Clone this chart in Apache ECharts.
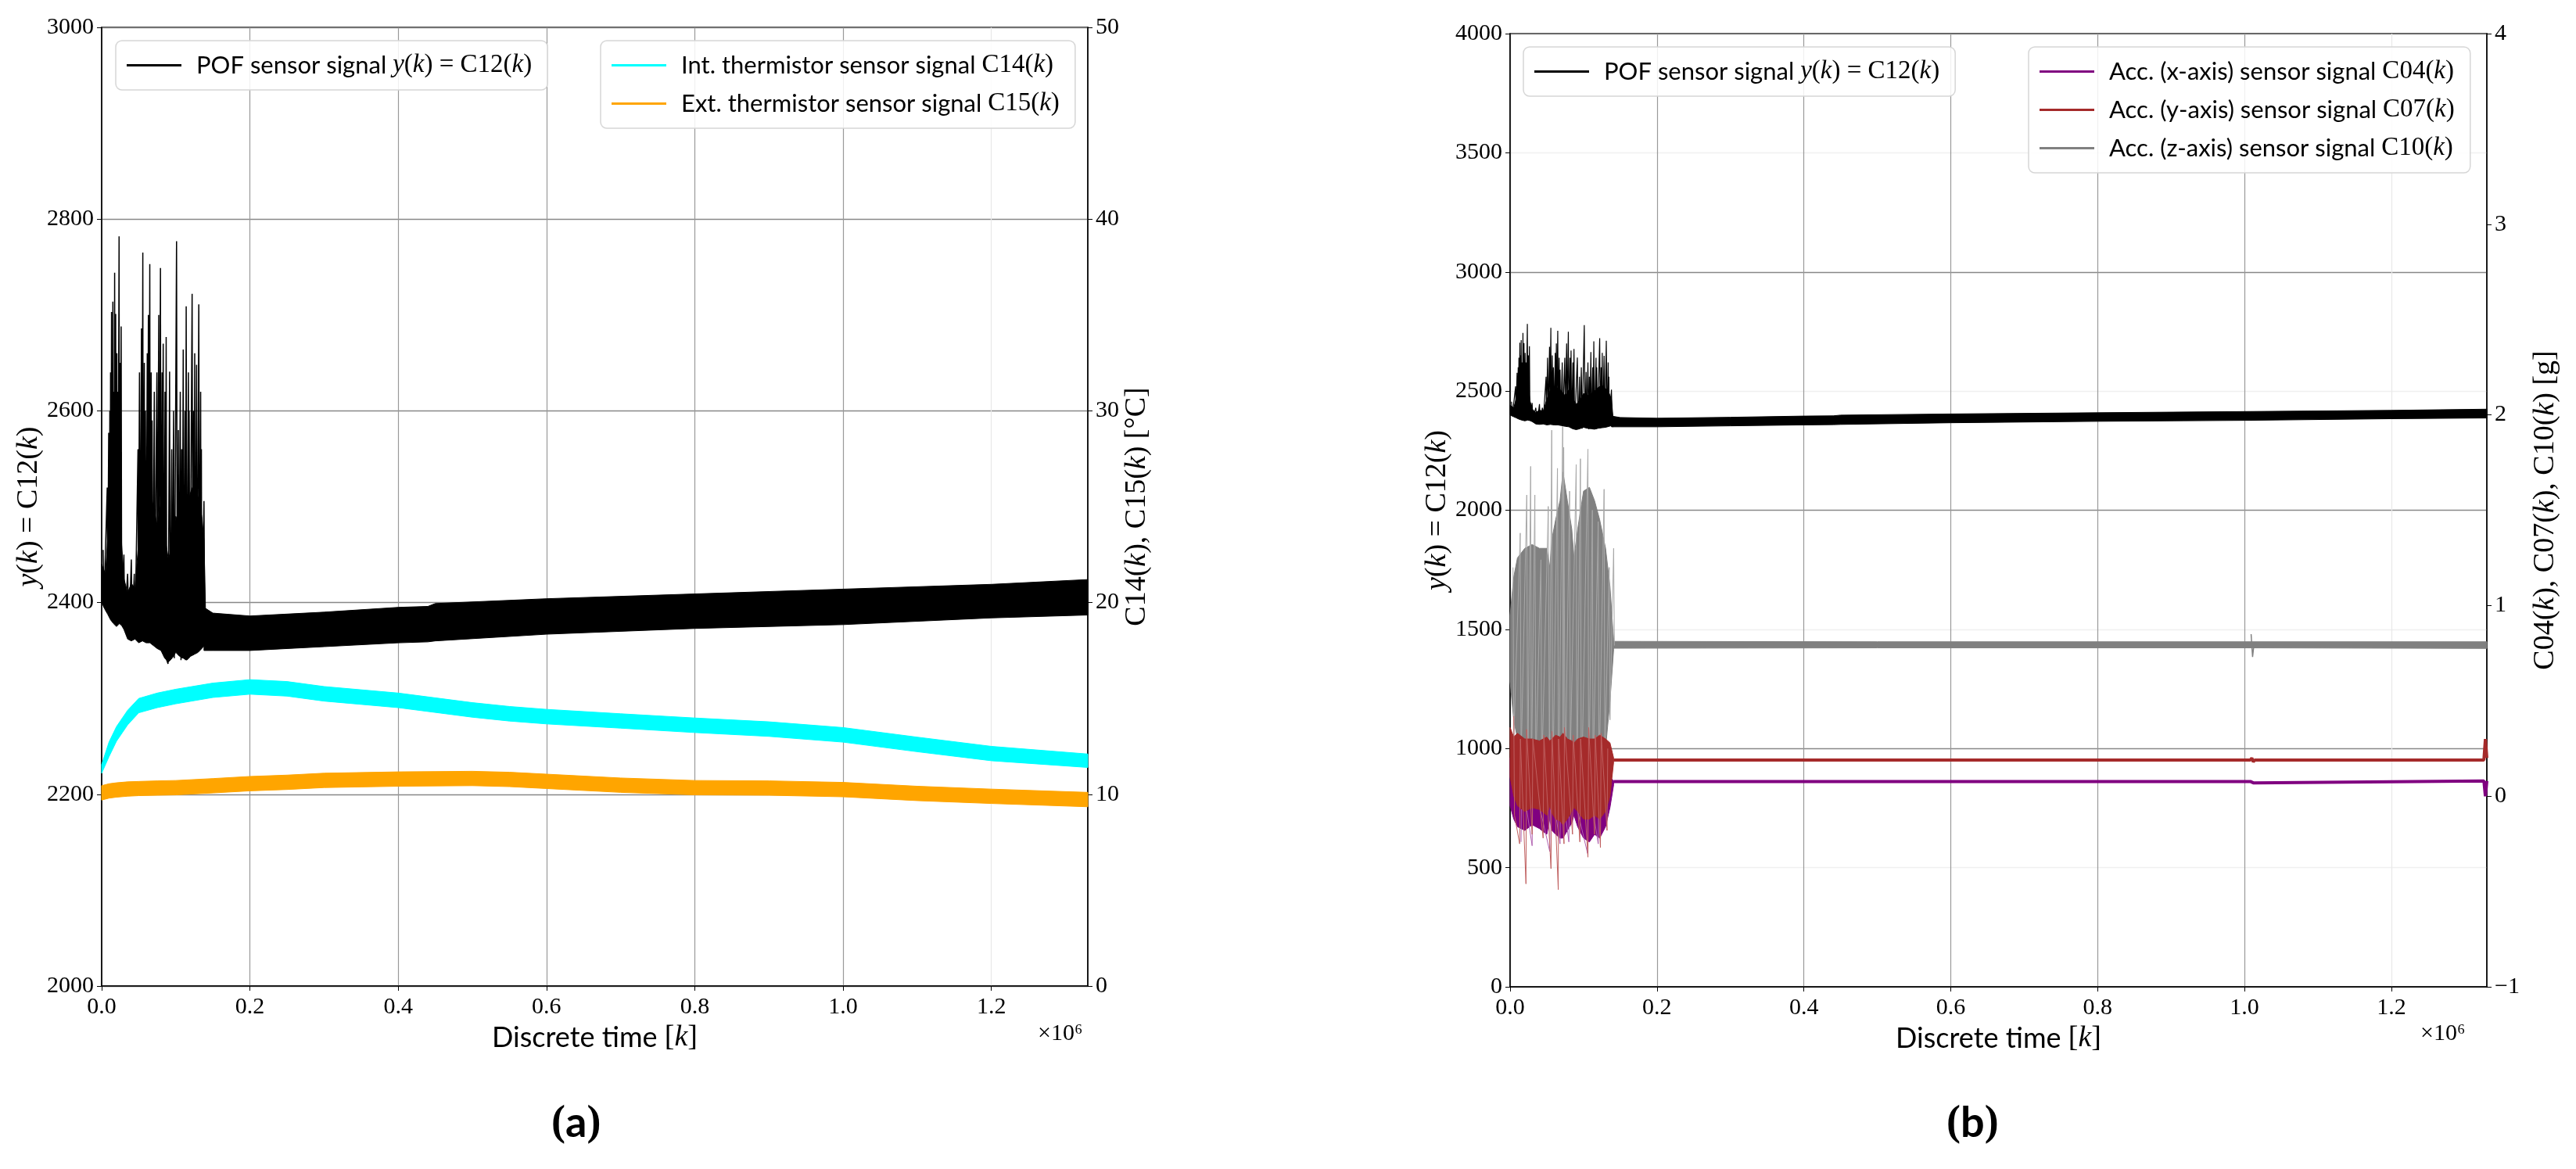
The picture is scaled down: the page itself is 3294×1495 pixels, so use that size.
<!DOCTYPE html>
<html>
<head>
<meta charset="utf-8">
<title>POF sensor signal vs. temperature and acceleration</title>
<script src="https://cdn.jsdelivr.net/npm/echarts@6/dist/echarts.min.js"></script>
<style>
html, body { margin: 0; padding: 0; background: #fff; }
#chart { width: 3294px; height: 1495px; }
</style>
</head>
<body>
<div id="chart"></div>
<script>
// discrete time k in units of 1e6 samples
var xMax = 1.33;

// POF sensor signal y(k) = C12(k), shared by both panels
// disturbance part (k < 0.14): dense core envelope + single spikes
var pofCoreK   = [0, 0.005, 0.008, 0.012, 0.016, 0.02, 0.024, 0.027, 0.03, 0.035, 0.04, 0.045, 0.05, 0.055, 0.06, 0.065, 0.07, 0.075, 0.08, 0.085, 0.09, 0.095, 0.1, 0.105, 0.11, 0.115, 0.12, 0.125, 0.13, 0.135, 0.138, 0.14];
var pofCoreTop = [2440, 2430, 2465, 2540, 2580, 2570, 2540, 2460, 2425, 2410, 2420, 2415, 2465, 2505, 2490, 2515, 2500, 2480, 2505, 2470, 2445, 2460, 2490, 2480, 2490, 2500, 2515, 2525, 2510, 2490, 2465, 2395];
var pofCoreBot = [2400, 2392, 2388, 2382, 2378, 2375, 2378, 2376, 2372, 2362, 2360, 2362, 2358, 2360, 2358, 2358, 2355, 2352, 2350, 2342, 2338, 2342, 2348, 2344, 2342, 2340, 2344, 2346, 2348, 2352, 2355, 2350];
var pofSpikeK = [0.002, 0.003, 0.0075, 0.008, 0.0095, 0.0102, 0.011, 0.0115, 0.012, 0.0125, 0.0133, 0.0138, 0.0145, 0.0148, 0.0151, 0.0156, 0.0165, 0.0168, 0.0175, 0.018, 0.0189, 0.0194, 0.0205, 0.021, 0.0215, 0.022, 0.0235, 0.024, 0.025, 0.0255, 0.0263, 0.027, 0.03, 0.031, 0.035, 0.037, 0.04, 0.041, 0.044, 0.045, 0.049, 0.0495, 0.051, 0.052, 0.0537, 0.0542, 0.0555, 0.056, 0.0575, 0.058, 0.059, 0.06, 0.0615, 0.062, 0.063, 0.0635, 0.0649, 0.0655, 0.0668, 0.0672, 0.068, 0.069, 0.071, 0.0715, 0.0745, 0.075, 0.077, 0.0775, 0.0793, 0.08, 0.0815, 0.082, 0.083, 0.0838, 0.0855, 0.086, 0.087, 0.0878, 0.0895, 0.0916, 0.0925, 0.0945, 0.095, 0.097, 0.098, 0.101, 0.102, 0.1035, 0.104, 0.106, 0.107, 0.108, 0.1085, 0.11, 0.111, 0.1125, 0.113, 0.114, 0.115, 0.117, 0.1175, 0.118, 0.119, 0.122, 0.123, 0.124, 0.1245, 0.1255, 0.126, 0.128, 0.129, 0.131, 0.132, 0.1335, 0.134, 0.1345, 0.135, 0.138, 0.139];
var pofSpikeV = [2455, 2395, 2520, 2400, 2577, 2390, 2600, 2400, 2640, 2410, 2703, 2400, 2650, 2410, 2714, 2420, 2620, 2400, 2744, 2420, 2701, 2410, 2660, 2400, 2620, 2420, 2782, 2410, 2650, 2400, 2688, 2390, 2450, 2380, 2430, 2370, 2445, 2375, 2430, 2370, 2560, 2380, 2640, 2400, 2686, 2400, 2765, 2410, 2650, 2390, 2600, 2400, 2660, 2390, 2700, 2400, 2753, 2400, 2640, 2380, 2590, 2370, 2620, 2380, 2640, 2380, 2700, 2380, 2749, 2370, 2640, 2360, 2670, 2360, 2620, 2350, 2677, 2340, 2336, 2641, 2340, 2560, 2345, 2600, 2342, 2777, 2350, 2580, 2345, 2620, 2340, 2560, 2342, 2664, 2345, 2600, 2340, 2709, 2345, 2640, 2342, 2600, 2345, 2722, 2345, 2600, 2350, 2660, 2350, 2648, 2350, 2711, 2355, 2620, 2360, 2560, 2360, 2506, 2370];
// steady part (k >= 0.14): band envelope
var pofBandK   = [0.138, 0.15, 0.2, 0.3, 0.4, 0.44, 0.45, 0.6, 0.8, 1.0, 1.2, 1.33];
var pofBandTop = [2395, 2389, 2386, 2390, 2395, 2396, 2399, 2404, 2409, 2414, 2419, 2424];
var pofBandBot = [2350, 2350, 2350, 2354, 2358, 2359, 2360, 2367, 2373, 2377, 2384, 2387];

// thermistor signals C14(k), C15(k) in degC
var thermK  = [0, 0.01, 0.02, 0.035, 0.05, 0.075, 0.1, 0.15, 0.2, 0.25, 0.3, 0.4, 0.5, 0.55, 0.6, 0.7, 0.8, 0.9, 1.0, 1.1, 1.2, 1.33];
var intTop  = [11.55, 12.73, 13.53, 14.38, 15.0, 15.28, 15.48, 15.8, 15.98, 15.88, 15.62, 15.28, 14.78, 14.58, 14.43, 14.2, 13.98, 13.78, 13.48, 12.98, 12.5, 12.1];
var intBot  = [11.1, 11.97, 12.77, 13.62, 14.25, 14.52, 14.72, 15.05, 15.22, 15.12, 14.86, 14.52, 14.02, 13.82, 13.67, 13.45, 13.22, 13.02, 12.72, 12.22, 11.75, 11.4];
var extTop  = [10.45, 10.55, 10.6, 10.65, 10.67, 10.7, 10.72, 10.82, 10.93, 11.0, 11.1, 11.17, 11.2, 11.15, 11.05, 10.85, 10.72, 10.7, 10.62, 10.42, 10.27, 10.1];
var extBot  = [9.7, 9.8, 9.85, 9.9, 9.93, 9.95, 9.97, 10.07, 10.18, 10.25, 10.35, 10.42, 10.45, 10.4, 10.3, 10.1, 9.97, 9.95, 9.87, 9.67, 9.52, 9.35];

// accelerometer signals C04(k), C07(k), C10(k) in g
var accCoreK    = [0, 0.005, 0.01, 0.02, 0.03, 0.04, 0.05, 0.054, 0.057, 0.062, 0.068, 0.072, 0.078, 0.084, 0.087, 0.092, 0.1, 0.108, 0.115, 0.122, 0.13, 0.136, 0.141];
var accZCoreTop = [0.95, 1.15, 1.25, 1.3, 1.32, 1.3, 1.3, 1.2, 1.35, 1.45, 1.55, 1.7, 1.55, 1.4, 1.25, 1.4, 1.6, 1.62, 1.55, 1.45, 1.3, 1.1, 0.82];
var accZCoreBot = [0.6, 0.4, 0.3, 0.25, 0.22, 0.22, 0.22, 0.35, 0.2, 0.1, 0.02, -0.08, 0.05, 0.15, 0.3, 0.15, 0.0, -0.02, 0.05, 0.12, 0.25, 0.5, 0.77];
var accYCoreTop = [0.36, 0.31, 0.33, 0.3, 0.3, 0.29, 0.31, 0.29, 0.3, 0.32, 0.31, 0.33, 0.3, 0.29, 0.28, 0.3, 0.31, 0.3, 0.3, 0.32, 0.3, 0.28, 0.2];
var accYCoreBot = [0.1, 0.0, -0.05, -0.08, -0.06, -0.07, -0.1, -0.05, -0.09, -0.12, -0.13, -0.15, -0.12, -0.08, -0.06, -0.08, -0.12, -0.12, -0.1, -0.12, -0.08, 0.0, 0.18];
var accXCoreTop = [0.2, 0.18, 0.15, 0.12, 0.12, 0.1, 0.12, 0.1, 0.12, 0.1, 0.12, 0.1, 0.12, 0.1, 0.1, 0.12, 0.1, 0.1, 0.12, 0.1, 0.12, 0.1, 0.08];
var accXCoreBot = [-0.05, -0.12, -0.16, -0.18, -0.15, -0.17, -0.2, -0.12, -0.18, -0.2, -0.22, -0.22, -0.18, -0.14, -0.1, -0.16, -0.22, -0.24, -0.2, -0.22, -0.16, -0.06, 0.06];

var accZSpikeK = [0.004, 0.005, 0.0138, 0.015, 0.0227, 0.024, 0.028, 0.029, 0.0337, 0.035, 0.042, 0.043, 0.052, 0.0535, 0.0567, 0.058, 0.0645, 0.066, 0.0716, 0.0722, 0.073, 0.075, 0.081, 0.082, 0.09, 0.091, 0.0958, 0.097, 0.106, 0.107, 0.112, 0.113, 0.12, 0.121, 0.128, 0.129, 0.135, 0.136, 0.141, 0.142];
var accZSpikeV = [1.2, 0.3, 1.38, 0.2, 1.58, 0.05, 1.73, 0.1, 1.58, 0.15, 1.24, 0.1, 1.52, 0.2, 1.92, 0.0, 1.72, -0.05, 1.94, -0.12, 1.83, 0.05, 1.6, 0.2, 1.74, 0.0, 1.77, -0.05, 1.82, -0.02, 1.5, 0.1, 1.44, 0.05, 1.61, 0.2, 1.2, 0.4, 1.3, 0.79];
var accYSpikeK = [0.005, 0.006, 0.013, 0.014, 0.0216, 0.0225, 0.03, 0.031, 0.045, 0.046, 0.0557, 0.057, 0.0656, 0.066, 0.0734, 0.074, 0.085, 0.086, 0.095, 0.096, 0.106, 0.107, 0.115, 0.116, 0.123, 0.124, 0.132, 0.133];
var accYSpikeV = [0.42, -0.1, -0.25, 0.3, -0.46, 0.35, -0.2, 0.3, -0.22, 0.32, -0.38, 0.34, -0.49, 0.3, -0.25, 0.36, -0.2, 0.32, -0.24, 0.3, -0.32, 0.36, -0.2, 0.32, -0.27, 0.33, -0.18, 0.25];
var accXSpikeK = [0.0149, 0.016, 0.03, 0.031, 0.054, 0.055, 0.068, 0.069, 0.08, 0.081, 0.1055, 0.106, 0.12, 0.121];
var accXSpikeV = [-0.24, 0.1, -0.26, 0.1, -0.29, 0.1, -0.25, 0.1, -0.24, 0.1, -0.3, 0.1, -0.25, 0.1];

// steady part of the accelerometers
var accZBandK   = [0.141, 0.5, 1.0, 1.33];
var accZBandTop = [0.812, 0.81, 0.81, 0.81];
var accZBandBot = [0.776, 0.778, 0.778, 0.775];
var accZBlipK = [1.009, 1.011, 1.013];
var accZBlipV = [0.85, 0.73, 0.8];
var accLineK  = [0.141, 1.008, 1.01, 1.012, 1.014, 1.326, 1.328, 1.33];
var accYLineV = [0.19, 0.19, 0.2, 0.18, 0.19, 0.19, 0.3, 0.2];
var accXLineV = [0.077, 0.077, 0.085, 0.07, 0.077, 0.08, 0.0, 0.08];

var POF = 'POF sensor signal y(k) = C12(k)';
var INT = 'Int. thermistor sensor signal C14(k)';
var EXT = 'Ext. thermistor sensor signal C15(k)';
var ACX = 'Acc. (x-axis) sensor signal C04(k)';
var ACY = 'Acc. (y-axis) sensor signal C07(k)';
var ACZ = 'Acc. (z-axis) sensor signal C10(k)';
var legendMath = {};
legendMath[POF] = ['POF sensor signal ', 'y(k) = C12(k)'];
legendMath[INT] = ['Int. thermistor sensor signal ', 'C14(k)'];
legendMath[EXT] = ['Ext. thermistor sensor signal ', 'C15(k)'];
legendMath[ACX] = ['Acc. (x-axis) sensor signal ', 'C04(k)'];
legendMath[ACY] = ['Acc. (y-axis) sensor signal ', 'C07(k)'];
legendMath[ACZ] = ['Acc. (z-axis) sensor signal ', 'C10(k)'];

var SERIF = 'Liberation Serif';
var SANS = 'Lato';

// turn a small math string into rich text: letters italic, rest upright
function mathRich(s) {
  var out = '';
  for (var i = 0; i < s.length; i++) {
    var c = s[i];
    if (c === 'y' || c === 'k') out += '{it|' + c + '}';
    else out += '{rm|' + c + '}';
  }
  return out;
}

function rich(size) {
  return {
    sf: { fontFamily: SANS, fontSize: size, color: '#000' },
    rm: { fontFamily: SERIF, fontSize: size + 2, color: '#000' },
    it: { fontFamily: SERIF, fontSize: size + 2, fontStyle: 'italic', color: '#000' }
  };
}

function zip(ks, vs) {
  return ks.map(function (k, i) { return [k, vs[i]]; });
}

// filled band between an upper and a lower envelope
function band(name, ks, tops, bots, color, xi, yi, z) {
  return {
    name: name, type: 'custom', xAxisIndex: xi, yAxisIndex: yi, z: z, silent: true,
    data: ks.map(function (k, i) { return [k, tops[i], bots[i]]; }),
    encode: { x: 0, y: [1, 2] },
    renderItem: function (params, api) {
      if (params.dataIndex !== 0) return null;
      var pts = [];
      for (var i = 0; i < ks.length; i++) pts.push(api.coord([ks[i], tops[i]]));
      for (var j = ks.length - 1; j >= 0; j--) pts.push(api.coord([ks[j], bots[j]]));
      return { type: 'polygon', shape: { points: pts }, style: { fill: color, stroke: color, lineWidth: 1 } };
    }
  };
}

function line(name, data, color, width, xi, yi, z) {
  return {
    name: name, type: 'line', xAxisIndex: xi, yAxisIndex: yi, z: z,
    data: data, showSymbol: false, symbol: 'none', animation: false, silent: true,
    lineStyle: { color: color, width: width }
  };
}

function xAxisCfg(gi) {
  return {
    type: 'value', gridIndex: gi, min: 0, max: xMax, interval: 0.2,
    name: '{sf|Discrete time }{rm|[}{it|k}{rm|]}',
    nameLocation: 'middle', nameGap: 46,
    nameTextStyle: { rich: rich(36) },
    axisLine: { show: true, lineStyle: { color: '#000', width: 1.5 } },
    axisTick: { show: true, length: 6, lineStyle: { color: '#000' } },
    axisLabel: {
      show: true, margin: 12, showMaxLabel: false, color: '#000',
      fontFamily: SERIF, fontSize: 30,
      formatter: function (v) { return v.toFixed(1); }
    },
    splitLine: { show: true, lineStyle: { color: ['#999', '#999', '#999', '#999', '#999', '#999', '#e8e8e8', '#999'], width: 1.2 } }
  };
}

function yAxisCfg(gi, pos, min, max, step, name, gap, split) {
  return {
    type: 'value', gridIndex: gi, position: pos, min: min, max: max, interval: step,
    name: name, nameLocation: 'middle', nameRotate: 90, nameGap: gap,
    nameTextStyle: { rich: rich(36) },
    axisLine: { show: true, lineStyle: { color: '#000', width: 1.5 } },
    axisTick: { show: true, length: 6, lineStyle: { color: '#000' } },
    axisLabel: {
      show: true, margin: 10, color: '#000', fontFamily: SERIF, fontSize: 30,
      formatter: function (v) { return v < 0 ? '\u2212' + Math.abs(v) : String(v); }
    },
    splitLine: split ? { show: true, lineStyle: { color: split, width: 1.3 } } : { show: false }
  };
}

function legendCfg(names, colors, left, top, vertical) {
  return {
    data: names.map(function (n, i) {
      return { name: n, icon: 'rect', itemStyle: { color: colors[i] }, lineStyle: { color: colors[i] } };
    }),
    orient: vertical ? 'vertical' : 'horizontal',
    left: left, top: top, itemWidth: 70, itemHeight: 3, itemGap: 16,
    padding: [15, 20, 15, 14],
    backgroundColor: 'rgba(255,255,255,0.85)',
    borderColor: '#d6d6d6', borderWidth: 1.5, borderRadius: 8,
    selectedMode: false,
    textStyle: { padding: [0, 0, 0, 14], rich: rich(31) },
    formatter: function (n) {
      var p = legendMath[n];
      return '{sf|' + p[0] + '}' + mathRich(p[1]);
    }
  };
}

var chart = echarts.init(document.getElementById('chart'), null, { renderer: 'canvas' });

var option = {
  animation: false,
  backgroundColor: '#fff',
  grid: [
    { left: 130, top: 35, width: 1261, height: 1226, show: true, borderColor: '#000', borderWidth: 1.5, backgroundColor: 'transparent' },
    { left: 1931, top: 43, width: 1249, height: 1219, show: true, borderColor: '#000', borderWidth: 1.5, backgroundColor: 'transparent' }
  ],
  xAxis: [xAxisCfg(0), xAxisCfg(1)],
  yAxis: [
    yAxisCfg(0, 'left', 2000, 3000, 200, mathRich('y(k) = C12(k)'), 74, '#888'),
    yAxisCfg(0, 'right', 0, 50, 10, mathRich('C14(k), C15(k) ') + '{rm|[°C]}', 44, null),
    yAxisCfg(1, 'left', 0, 4000, 500, mathRich('y(k) = C12(k)'), 74, ['#888', '#f0f0f0']),
    yAxisCfg(1, 'right', -1, 4, 1, mathRich('C04(k), C07(k), C10(k) ') + '{rm|[g]}', 56, null)
  ],
  legend: [
    legendCfg([POF], ['#000'], 148, 52, false),
    legendCfg([INT, EXT], ['#00ffff', '#ffa500'], 768, 52, true),
    legendCfg([POF], ['#000'], 1948, 60, false),
    legendCfg([ACX, ACY, ACZ], ['#800080', '#a52a2a', '#808080'], 2594, 60, true)
  ],
  title: [
    { text: '×10⁶', left: 1322, top: 1302, textStyle: { fontFamily: SERIF, fontSize: 30, fontWeight: 'normal', color: '#000' } },
    { text: '×10⁶', left: 3090, top: 1302, textStyle: { fontFamily: SERIF, fontSize: 30, fontWeight: 'normal', color: '#000' } },
    { text: '{p|(}{b|a}{p|)}', left: 700, top: 1405, textStyle: { rich: { p: { fontFamily: SERIF, fontSize: 54, color: '#000' }, b: { fontFamily: SANS, fontSize: 54, fontWeight: 'bold', color: '#000' } } } },
    { text: '{p|(}{b|b}{p|)}', left: 2484, top: 1405, textStyle: { rich: { p: { fontFamily: SERIF, fontSize: 54, color: '#000' }, b: { fontFamily: SANS, fontSize: 54, fontWeight: 'bold', color: '#000' } } } }
  ],
  series: [
    // panel (a)
    band(POF, pofBandK, pofBandTop, pofBandBot, '#000', 0, 0, 3),
    band(POF, pofCoreK, pofCoreTop, pofCoreBot, '#000', 0, 0, 3),
    line(POF, zip(pofSpikeK, pofSpikeV), '#000', 1.5, 0, 0, 3),
    band(INT, thermK, intTop, intBot, '#00ffff', 0, 1, 4),
    band(EXT, thermK, extTop, extBot, '#ffa500', 0, 1, 4),
    // panel (b)
    band(POF, pofBandK, pofBandTop, pofBandBot, '#000', 1, 2, 3),
    band(POF, pofCoreK, pofCoreTop, pofCoreBot, '#000', 1, 2, 3),
    line(POF, zip(pofSpikeK, pofSpikeV), '#000', 1.2, 1, 2, 3),
    line(ACZ, zip(accZSpikeK, accZSpikeV), '#a8a8a8', 1, 1, 3, 4),
    band(ACZ, accCoreK, accZCoreTop, accZCoreBot, '#808080', 1, 3, 4),
    band(ACZ, accZBandK, accZBandTop, accZBandBot, '#808080', 1, 3, 4),
    line(ACZ, zip(accZBlipK, accZBlipV), '#808080', 1.5, 1, 3, 4),
    line(ACX, zip(accXSpikeK, accXSpikeV), '#b060b0', 1, 1, 3, 5),
    band(ACX, accCoreK, accXCoreTop, accXCoreBot, '#800080', 1, 3, 5),
    line(ACX, zip(accLineK, accXLineV), '#800080', 4, 1, 3, 5),
    line(ACY, zip(accYSpikeK, accYSpikeV), '#c06060', 1, 1, 3, 6),
    band(ACY, accCoreK, accYCoreTop, accYCoreBot, '#a52a2a', 1, 3, 6),
    line(ACY, zip(accLineK, accYLineV), '#a52a2a', 4, 1, 3, 6)
  ]
};

chart.setOption(option);
</script>
</body>
</html>
